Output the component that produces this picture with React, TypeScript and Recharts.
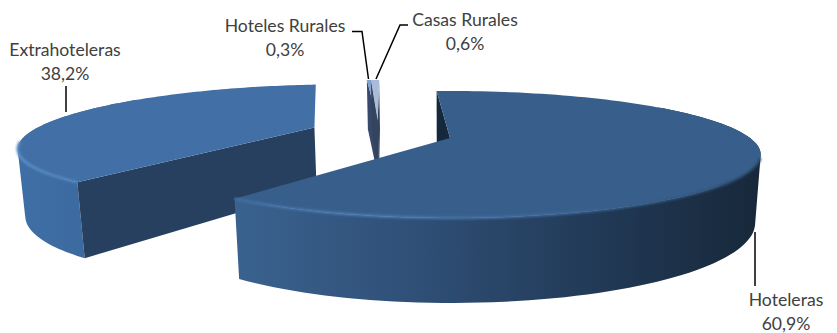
import React from 'react';
import { PieChart, Pie } from 'recharts';

const categories = ['Extrahoteleras', 'Hoteles Rurales', 'Casas Rurales', 'Hoteleras'];
const shares = [38.2, 0.3, 0.6, 60.9];

const data = categories.map((name, i) => ({ name, value: shares[i] }));

// projection of the pie plane onto the screen
const CX = 450;
const CY = 138;
const SCALE_RIGHT = 300;
const SCALE_LEFT = 290;
const SCALE_Y = 59.2;
const PERSPECTIVE = 0.26;
const DEPTH = 65.7;
const DEPTH_SHRINK = 0.017;

const LOOK: Record<string, any> = {
  Extrahoteleras: {
    explode: [-0.49, -0.185], top: '#4270a6', wall: '#27405f', endWall: false,
    rim: [['0%', '#3f6fa6'], ['100%', '#3c6a9f']], rimFrom: 16, rimTo: 90,
    shine: [['0%', '#5f92cc'], ['100%', '#4f82bc']], shineFrom: 0.05,
  },
  'Hoteles Rurales': {
    explode: [-0.27, -0.32], top: '#7f9fd0', wall: '#37486a', endWall: true,
    rim: [['0%', '#37486a'], ['100%', '#37486a']], rimFrom: 360, rimTo: 380,
  },
  'Casas Rurales': {
    explode: [-0.27, -0.32], top: '#a9bbd9', wall: '#33445f', endWall: true,
    rim: [['0%', '#33445f'], ['100%', '#33445f']], rimFrom: 360, rimTo: 380,
  },
  Hoteleras: {
    explode: [0, 0], top: '#385f8c', wall: '#16283c', endWall: false,
    rim: [['0%', '#3a628f'], ['35%', '#2f4f76'], ['65%', '#233c5a'], ['100%', '#17283a']], rimFrom: 235, rimTo: 760,
    shine: [['0%', '#4470a2'], ['25%', '#4f7db4'], ['60%', '#3f6a9c'], ['100%', '#2a4868']], shineFrom: 0.3,
  },
};

const LABELS: Record<string, any> = {
  Extrahoteleras: { x: 65, y: 56, line: '66,86 66,112' },
  'Hoteles Rurales': { x: 285, y: 32, line: '352,31.5 362,31.5 368.5,79' },
  'Casas Rurales': { x: 465, y: 26, line: '408,25 400,25 376,79' },
  Hoteleras: { x: 786, y: 305.5, line: '755,232 755,286' },
};

const point = (deg: number, r: number, ex: number, ey: number, lower: boolean) => {
  const a = (deg * Math.PI) / 180;
  const px = r * Math.cos(a) + ex;
  const py = -r * Math.sin(a) + ey;
  const w = 1 - PERSPECTIVE * py + (lower ? DEPTH_SHRINK : 0);
  const scaleX = px < 0 ? SCALE_LEFT : SCALE_RIGHT;
  return [CX + (scaleX * px) / w, CY + (SCALE_Y * py + (lower ? DEPTH : 0)) / w, py];
};

const openPath = (pts: number[][]) =>
  pts.map((p, i) => `${i ? 'L' : 'M'}${p[0].toFixed(2)} ${p[1].toFixed(2)}`).join(' ');

const toPath = (pts: number[][]) => `${openPath(pts)} Z`;

// quads all wound the same way, so the union fills under nonzero
const sweepPath = (top: number[][], low: number[][]) => {
  const parts: string[] = [];
  for (let i = 0; i < top.length - 1; i++) {
    const quad = [top[i], top[i + 1], low[i + 1], low[i]];
    let area = 0;
    quad.forEach((p, j) => {
      const q = quad[(j + 1) % 4];
      area += p[0] * q[1] - q[0] * p[1];
    });
    parts.push(toPath(area < 0 ? quad.reverse() : quad));
  }
  return parts.join(' ');
};

const Slice3D = (props: any) => {
  const { startAngle, endAngle, name, index } = props;
  const look = LOOK[name];
  const [ex, ey] = look.explode;
  const n = 120;
  const angles = Array.from({ length: n + 1 }, (_, i) => startAngle + ((endAngle - startAngle) * i) / n);
  const topArc = angles.map((d) => point(d, 1, ex, ey, false));
  const lowArc = angles.map((d) => point(d, 1, ex, ey, true));
  const apexTop = point(0, 0, ex, ey, false);
  const apexLow = point(0, 0, ex, ey, true);
  const rimId = `rim-${index}`;
  const shineId = `shine-${index}`;
  const shinePts = look.shine ? topArc.filter((p) => p[2] > look.shineFrom) : [];
  // the back of the rim stays hidden behind the top face
  const rimTop = topArc.filter((p) => p[2] - ey > -0.6);
  const rimLow = lowArc.filter((p) => p[2] - ey > -0.6);

  return (
    <g>
      <defs>
        <linearGradient id={rimId} gradientUnits="userSpaceOnUse" x1={look.rimFrom} x2={look.rimTo} y1={0} y2={0}>
          {look.rim.map((s: string[]) => <stop key={s[0]} offset={s[0]} stopColor={s[1]} />)}
        </linearGradient>
        {look.shine && (
          <linearGradient id={shineId} gradientUnits="userSpaceOnUse" x1={look.rimFrom} x2={look.rimTo} y1={0} y2={0}>
            {look.shine.map((s: string[]) => <stop key={s[0]} offset={s[0]} stopColor={s[1]} />)}
          </linearGradient>
        )}
        <filter id={`soft-${index}`} x="-5%" y="-20%" width="110%" height="140%">
          <feGaussianBlur stdDeviation="0.8" />
        </filter>
      </defs>
      {look.endWall && <path d={toPath([apexTop, topArc[n], lowArc[n], apexLow])} fill={look.wall} />}
      {rimTop.length > 1 && (
        <path d={sweepPath(rimTop, rimLow)} fill={`url(#${rimId})`} fillRule="nonzero" />
      )}
      <path d={toPath([apexTop, topArc[0], lowArc[0], apexLow])} fill={look.wall} />
      <path d={toPath([apexTop, ...topArc])} fill={look.top} />
      {shinePts.length > 0 && (
        <path d={openPath(shinePts)} fill="none" stroke={`url(#${shineId})`} strokeWidth={2.5} filter={`url(#soft-${index})`} />
      )}
    </g>
  );
};

const SliceLabel = (props: any) => {
  const { name, value } = props;
  const pos = LABELS[name];
  const pct = `${value.toFixed(1).replace('.', ',')}%`;
  return (
    <g>
      <polyline points={pos.line} fill="none" stroke="#000000" strokeWidth={1.5} />
      <text x={pos.x} y={pos.y} textAnchor="middle" fontFamily="Lato, sans-serif" fontSize={17.6} fill="#404040">
        {name}
      </text>
      <text x={pos.x} y={pos.y + 24} textAnchor="middle" fontFamily="Lato, sans-serif" fontSize={17.6} fill="#404040">
        {pct}
      </text>
    </g>
  );
};

export default function App() {
  return (
    <div style={{ position: 'absolute', left: 0, top: 0, width: 837, height: 333, background: '#ffffff' }}>
      <PieChart width={837} height={333} margin={{ top: 0, right: 0, bottom: 0, left: 0 }}>
        <Pie
          data={data}
          dataKey="value"
          nameKey="name"
          cx={CX}
          cy={CY}
          outerRadius={100}
          startAngle={-125.9}
          endAngle={-485.9}
          paddingAngle={0}
          shape={Slice3D}
          label={SliceLabel}
          labelLine={false}
          isAnimationActive={false}
        />
      </PieChart>
    </div>
  );
}
